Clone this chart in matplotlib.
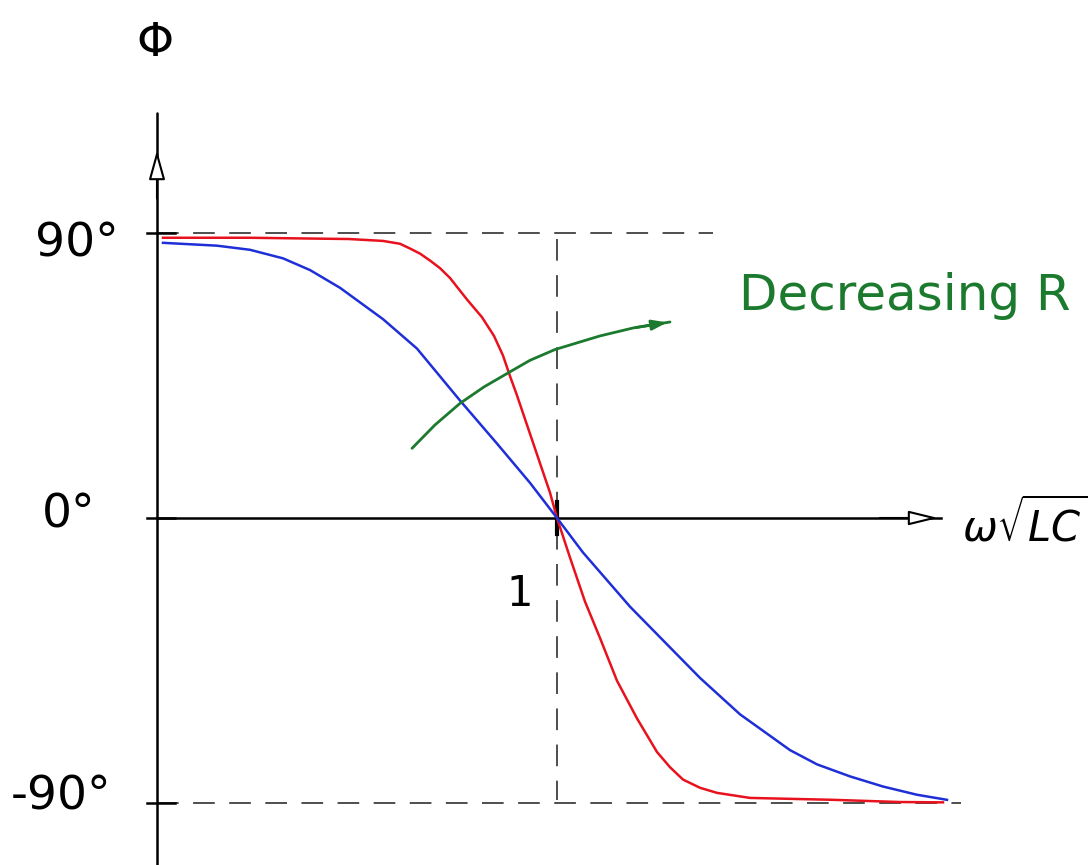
import numpy as np
import matplotlib
matplotlib.use("Agg")
import matplotlib.pyplot as plt

plt.rcParams['font.family'] = ['DejaVu Sans']
plt.rcParams['mathtext.fontset'] = 'dejavusans'

# phase (degrees) vs normalised frequency w*sqrt(LC), low R (sharp)
red_x = [0.015, 0.23, 0.48, 0.565, 0.6075, 0.6325, 0.6575, 0.6825, 0.7075,
         0.7325, 0.775, 0.8125, 0.8425, 0.865, 0.8825, 0.9, 0.9325, 0.9575, 0.9825,
         1.0, 1.0325, 1.07, 1.1075, 1.15, 1.2, 1.25, 1.2825, 1.315, 1.3575,
         1.4, 1.4825, 1.69, 1.8575, 1.965]
red_phi = [88.5, 88.5, 88.1, 87.5, 86.6, 85.1, 83.5, 81.3, 78.9,
           75.8, 69.0, 63.4, 57.5, 51.3, 44.8, 38.7, 26.6, 17.3, 8.0,
           0.0, -12.5, -26.4, -37.9, -51.4, -63.3, -73.9, -78.7, -82.6, -85.2,
           -86.8, -88.4, -89.0, -89.7, -89.8]

# high R (broad)
blue_x = [0.015, 0.15, 0.2325, 0.315, 0.3825, 0.4575, 0.565, 0.65, 0.7575,
          0.85, 0.9325, 1.0, 1.065, 1.1825, 1.275, 1.3575, 1.4575, 1.525,
          1.5825, 1.65, 1.7325, 1.815, 1.9, 1.975]
blue_phi = [86.9, 86.0, 84.7, 82.0, 78.3, 72.7, 62.8, 53.5, 37.1,
            23.5, 11.1, 0.0, -10.9, -28.0, -39.9, -50.5, -62.0, -68.1,
            -73.3, -77.8, -81.6, -84.8, -87.4, -89.0]

# "decreasing R" arrow path
arrow_x = [0.6375, 0.695, 0.7575, 0.8175, 0.8775, 0.9325, 0.995, 1.1075, 1.19, 1.2825]
arrow_phi = [22.0, 29.4, 36.2, 41.4, 45.8, 49.8, 53.2, 57.5, 60.0, 61.9]

y_ticks = [90, 0, -90]
y_labels = ['90°', '0°', '-90°']

px_per_unit = 400.0
deg_per_px = 0.3158
W, H = 1090, 865
x0_px, y0_px = 157, 518

fig = plt.figure(figsize=(10.9, 8.65), dpi=100)
ax = fig.add_axes([0, 0, 1, 1])
ax.set_xlim(-x0_px / px_per_unit, (W - x0_px) / px_per_unit)
ax.set_ylim(-(H - y0_px) * deg_per_px, y0_px * deg_per_px)
ax.axis('off')

# axes drawn by hand
ax.plot([0, 0], [-115, 128], color='black', lw=1.8, solid_capstyle='round')
ax.plot([0, 1.96], [0, 0], color='black', lw=1.8)
ax.annotate('', xy=(0, 117), xytext=(0, 100),
            arrowprops=dict(arrowstyle='-|>,head_length=0.9,head_width=0.25',
                            mutation_scale=20, fc='white', ec='black', lw=1.5))
ax.annotate('', xy=(1.96, 0), xytext=(1.8, 0),
            arrowprops=dict(arrowstyle='-|>,head_length=0.9,head_width=0.22',
                            mutation_scale=20, fc='white', ec='black', lw=1.5))
for t in y_ticks:
    ax.plot([-0.025, 0.045], [t, t], color='black', lw=1.8)
ax.plot([1.0, 1.0], [-5, 5], color='black', lw=3)

# reference lines
dash = (0, (12, 8))
ax.plot([0, 1.39], [90, 90], color='black', lw=1.3, ls=dash, alpha=0.75)
ax.plot([0, 2.01], [-90, -90], color='black', lw=1.3, ls=dash, alpha=0.75)
ax.plot([1.0, 1.0], [88, -89], color='black', lw=1.3, ls=dash, alpha=0.75)

# phase curves
ax.plot(red_x, red_phi, color='#e8121e', lw=1.8, solid_joinstyle='round')
ax.plot(blue_x, blue_phi, color='#1f2fd8', lw=1.8, solid_joinstyle='round')

# decreasing R arrow
ax.plot(arrow_x, arrow_phi, color='#1c7a2e', lw=2.0, solid_capstyle='round')
ax.annotate('', xy=(arrow_x[-1], arrow_phi[-1]), xytext=(arrow_x[-2], arrow_phi[-2]),
            arrowprops=dict(arrowstyle='-|>,head_length=0.45,head_width=0.15',
                            mutation_scale=20, fc='#1c7a2e', ec='#1c7a2e', lw=2.0))

# labels
ax.text(-0.005, 150, 'Φ', fontsize=34, ha='center', va='center')
ax.text(-0.2, 86.5, y_labels[0], fontsize=34, ha='center', va='center')
ax.text(-0.22, 1.0, y_labels[1], fontsize=34, ha='center', va='center')
ax.text(-0.24, -88, y_labels[2], fontsize=34, ha='center', va='center')
ax.text(0.907, -24, '1', fontsize=30, ha='center', va='center')
ax.text(2.17, -2, r'$\omega\sqrt{LC}$', fontsize=30, ha='center', va='center')
ax.text(1.87, 70, 'Decreasing R', fontsize=36, color='#1c7a2e',
        ha='center', va='center')

fig.savefig('out.png', dpi=100, facecolor='white')
